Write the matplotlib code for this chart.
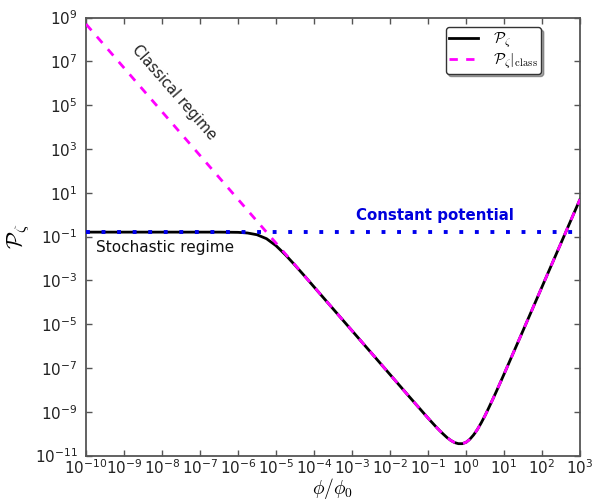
import numpy as np
import matplotlib
matplotlib.use("Agg")
import matplotlib.pyplot as plt

# ---- data (log10 values) ----
class_logphi = [-10, -9, -8, -7, -6, -5, -4, -3, -2, -1.5, -1.0, -0.9, -0.8, -0.7, -0.6,
                -0.5, -0.4, -0.3, -0.2, -0.1, 0.0, 0.1, 0.2, 0.3, 0.4, 0.5, 0.6, 0.7,
                0.8, 0.9, 1.0, 1.5, 2.0, 2.5, 3.0]
class_logP = [8.70, 6.70, 4.70, 2.70, 0.70, -1.30, -3.30, -5.30, -7.30, -8.30, -9.29, -9.48,
              -9.67, -9.85, -10.02, -10.18, -10.31, -10.41, -10.46, -10.46, -10.40, -10.26,
              -10.06, -9.81, -9.51, -9.18, -8.82, -8.45, -8.07, -7.68, -7.29, -5.30, -3.30,
              -1.30, 0.70]

full_logphi = [-10, -9, -8, -7, -6.5, -6, -5.75, -5.5, -5.25, -5, -4.75, -4.5, -4.25, -4,
               -3.5, -3, -2, -1.5, -1.0, -0.9, -0.8, -0.7, -0.6, -0.5, -0.4, -0.3, -0.2,
               -0.1, 0.0, 0.1, 0.2, 0.3, 0.4, 0.5, 0.6, 0.7, 0.8, 0.9, 1.0, 1.5, 2.0, 2.5, 3.0]
full_logP = [-0.80, -0.80, -0.80, -0.80, -0.80, -0.81, -0.84, -0.92, -1.10, -1.42, -1.84,
             -2.31, -2.80, -3.30, -4.30, -5.30, -7.30, -8.30, -9.29, -9.48, -9.67, -9.85,
             -10.02, -10.18, -10.31, -10.41, -10.46, -10.46, -10.40, -10.26, -10.06, -9.81,
             -9.51, -9.18, -8.82, -8.45, -8.07, -7.68, -7.29, -5.30, -3.30, -1.30, 0.70]

const_logphi = [-10, 3]
const_logP = [-0.80, -0.80]

x_tick_exps = list(range(-10, 4))
y_tick_exps = list(range(-11, 10, 2))

# ---- style ----
plt.rcParams['mathtext.fontset'] = 'cm'
plt.rcParams['font.family'] = ['DejaVu Sans']

fig = plt.figure(figsize=(5.96, 5.0), dpi=100)
ax = fig.add_axes([86/596, 1-455.5/500, (580-86)/596, (455.5-17.5)/500])

tp = lambda a: 10.0 ** np.asarray(a, dtype=float)

ax.plot(tp(full_logphi), tp(full_logP), color='black', lw=2.0, zorder=2,
        label=r'$\mathcal{P}_\zeta$')
ax.plot(tp(class_logphi), tp(class_logP), color='#ff00ff', lw=2.0, zorder=3,
        linestyle=(0, (3, 3)), label=r'$\mathcal{P}_\zeta|_{\rm class}$')
ax.plot(tp(const_logphi), tp(const_logP), color='#0000ee', lw=2.8, zorder=4,
        linestyle=(0, (1, 3.0)), dash_capstyle='butt')

ax.set_xscale('log')
ax.set_yscale('log')
ax.set_xlim(1e-10, 1e3)
ax.set_ylim(1e-11, 1e9)
ax.set_xticks(tp(x_tick_exps))
ax.set_yticks(tp(y_tick_exps))
ax.minorticks_off()
ax.tick_params(which='both', direction='in', top=True, right=True, length=4,
               width=1.0, color='#555555', labelsize=11, labelcolor='#222222')
ax.tick_params(axis='y', pad=6)
ax.tick_params(axis='x', pad=2)
for s in ax.spines.values():
    s.set_color('#555555')
    s.set_linewidth(1.3)

ax.set_xlabel(r'$\phi/\phi_0$', fontsize=14, labelpad=-1)
ax.set_ylabel(r'$\mathcal{P}_\zeta$', fontsize=16, labelpad=2)

ax.text(10**-9.75, 10**-1.48, 'Stochastic regime', fontsize=11, color='#111111',
        ha='left', va='center')
ax.text(10**-2.9, 10**-0.06, 'Constant potential', fontsize=10.8, color='#0000dd',
        fontweight='bold', ha='left', va='center')
ax.text(10**-7.68, 10**5.6, 'Classical regime', fontsize=10.5, color='#222222',
        rotation=-49, ha='center', va='center', rotation_mode='anchor')

leg = ax.legend(loc='upper right', bbox_to_anchor=(0.921, 0.978), borderaxespad=0,
                fancybox=True, shadow=True, fontsize=11, handlelength=1.9,
                borderpad=0.2, labelspacing=0.1, handletextpad=1.0)
leg.get_frame().set_edgecolor('#333333')
leg.get_frame().set_linewidth(1.0)

fig.savefig('out.png', dpi=100)
